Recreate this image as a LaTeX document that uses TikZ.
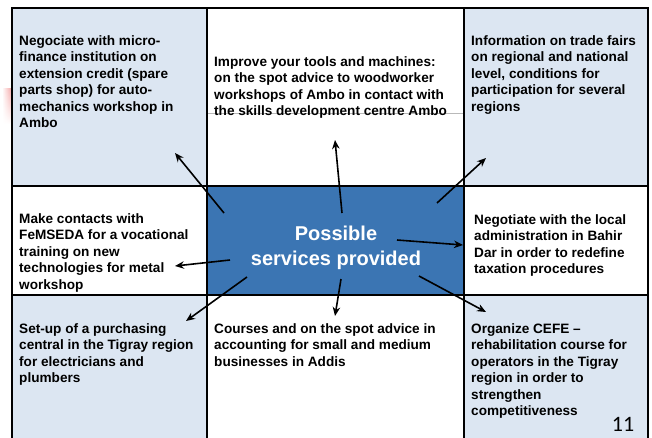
\documentclass[tikz,border=0pt]{standalone}
\usepackage{fontspec}
\setmainfont{Liberation Sans}
\newfontfamily\slidenum{Carlito}
\usepackage{xcolor}
\usetikzlibrary{arrows.meta,fadings}
\definecolor{pale}{HTML}{DCE6F2}
\definecolor{hubblue}{HTML}{3B75B3}
\definecolor{smear}{HTML}{F4A0A0}
\tikzset{
  grid/.style={draw=black, line width=1.3pt},
  item/.style={anchor=north west, align=left, inner sep=0pt,
    font=\bfseries\fontsize{13.6}{16.5}\selectfont},
  hubtext/.style={text=white, align=center, inner sep=0pt,
    font=\bfseries\fontsize{20}{25}\selectfont},
  link/.style={draw=black, line width=1.6pt,
    -{Stealth[length=9pt,width=7.5pt]}}
}

\begin{document}
\begin{tikzpicture}[x=1pt,y=-1pt]
  \useasboundingbox (0,0) rectangle (652,437);

  % cell backgrounds
  \fill[pale] (12,8) rectangle (207,186);
  \fill[pale] (464,8) rectangle (648,186);
  \fill[pale] (12,295) rectangle (207,445);
  \fill[pale] (464,295) rectangle (648,445);
  \fill[hubblue] (207,186) rectangle (464,295);
  \shade[left color=white, right color=smear, path fading=south] (2,88) rectangle (12,124);

  % grid lines
  \draw[gray!55, line width=0.8pt] (207,113) -- (464,113);
  \draw[grid] (12,445) -- (12,8) -- (648,8) -- (648,445);
  \draw[grid] (207,8) -- (207,445);
  \draw[grid] (464,8) -- (464,445);
  \draw[grid] (12,186) -- (648,186);
  \draw[grid] (12,295) -- (648,295);

  % texts
  \node[hubtext] (hub) at (336,248) {Possible\\services provided};
  \node[item] (nw) at (19,35) {Negociate with micro-\\finance institution on\\extension credit (spare\\parts shop) for auto-\\mechanics workshop in\\Ambo};
  \node[item] (n) at (214,56) {Improve your tools and machines:\\on the spot advice to woodworker\\workshops of Ambo in contact with\\the skills development centre Ambo};
  \node[item] (ne) at (471,35) {Information on trade fairs\\on regional and national\\level, conditions for\\participation for several\\regions};
  \node[item] (w) at (19,213) {Make contacts with\\FeMSEDA for a vocational\\training on new\\technologies for metal\\workshop};
  \node[item] (e) at (474,214) {Negotiate with the local\\administration in Bahir\\Dar in order to redefine\\taxation procedures};
  \node[item] (sw) at (19,323) {Set-up of a purchasing\\central in the Tigray region\\for electricians and\\plumbers};
  \node[item] (s) at (214,323) {Courses and on the spot advice in\\accounting for small and medium\\businesses in Addis};
  \node[item] (se) at (471,323) {Organize CEFE --\\rehabilitation course for\\operators in the Tigray\\region in order to\\strengthen\\competitiveness};
  \node[font=\slidenum\fontsize{22}{22}\selectfont, inner sep=0pt] (pg) at (623,424) {11};

  % arrow ends
  \coordinate (nwA) at (224,213);  \coordinate (nwB) at (175,153);
  \coordinate (nA) at (342,213);   \coordinate (nB) at (335,140);
  \coordinate (neA) at (437,203);  \coordinate (neB) at (486,158);
  \coordinate (wA) at (230,260);   \coordinate (wB) at (175,266);
  \coordinate (eA) at (397,240);   \coordinate (eB) at (463,245);
  \coordinate (swA) at (247,277);  \coordinate (swB) at (186,321);
  \coordinate (sA) at (341,279);   \coordinate (sB) at (335,316);
  \coordinate (seA) at (419,276);  \coordinate (seB) at (486,312);

  \draw[link] (nwA) -- (nwB);
  \draw[link] (nA) -- (nB);
  \draw[link] (neA) -- (neB);
  \draw[link] (wA) -- (wB);
  \draw[link] (eA) -- (eB);
  \draw[link] (swA) -- (swB);
  \draw[link] (sA) -- (sB);
  \draw[link] (seA) -- (seB);
\end{tikzpicture}
\end{document}
